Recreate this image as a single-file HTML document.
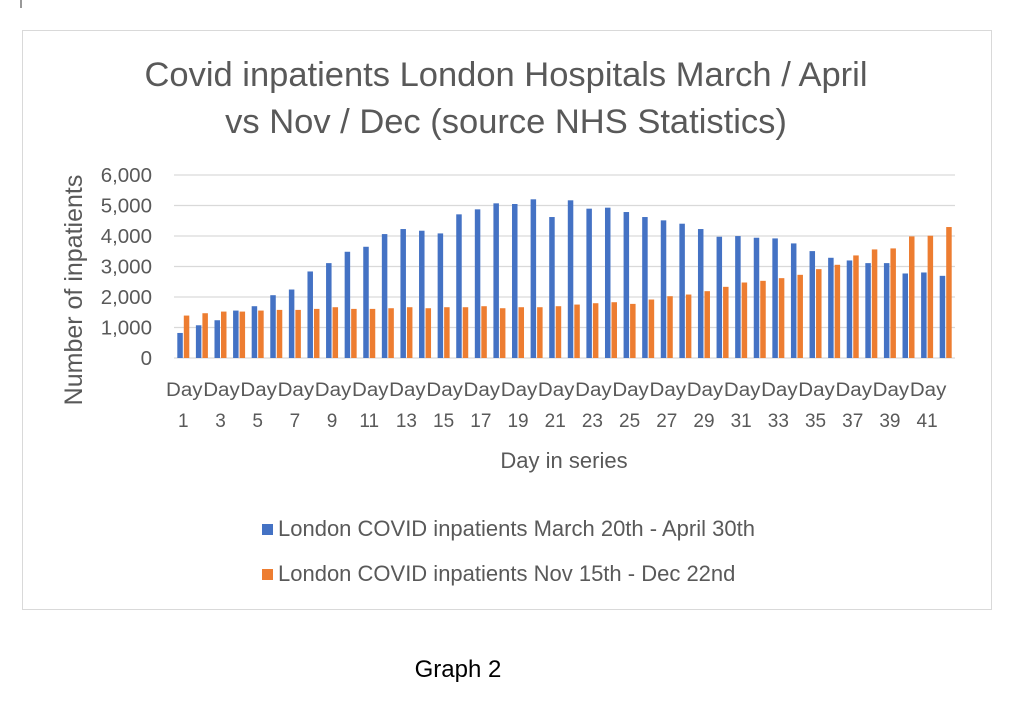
<!DOCTYPE html>
<html><head><meta charset="utf-8"><style>
body{margin:0;background:#fff;width:1024px;height:699px;overflow:hidden;font-family:"Liberation Sans",sans-serif}
svg text{font-family:"Liberation Sans",sans-serif;fill:#595959}
</style></head><body>
<svg id="c" width="1024" height="699" xmlns="http://www.w3.org/2000/svg">
<line x1="21" y1="0" x2="21" y2="8" stroke="#333" stroke-width="1"/>
<rect x="22.5" y="30.5" width="969" height="579" fill="#fff" stroke="#d9d9d9"/>
<text x="506" y="86" font-size="34.5" text-anchor="middle">Covid inpatients London Hospitals March / April</text>
<text x="506" y="133" font-size="34.5" text-anchor="middle">vs Nov / Dec (source NHS Statistics)</text>
<text transform="translate(82,290) rotate(-90)" font-size="25" text-anchor="middle">Number of inpatients</text>
<text x="564" y="468" font-size="22" text-anchor="middle">Day in series</text>
<g id="grid"></g><g id="bars"></g><g id="xl"></g>
<rect x="262" y="524" width="11" height="11" fill="#4472c4"/>
<text x="278" y="536" font-size="22">London COVID inpatients March 20th - April 30th</text>
<rect x="262" y="569" width="11" height="11" fill="#ed7d31"/>
<text x="278" y="581" font-size="22">London COVID inpatients Nov 15th - Dec 22nd</text>
<text x="458" y="677" font-size="24" text-anchor="middle" style="fill:#000">Graph 2</text>
</svg>
<script>
const yTicks=[0,1000,2000,3000,4000,5000,6000];
const yTickLabels=["0","1,000","2,000","3,000","4,000","5,000","6,000"];
const spring=[821,1073,1238,1555,1698,2059,2245,2837,3111,3483,3647,4063,4228,4173,4085,4710,4874,5071,5049,5203,4622,5170,4896,4929,4786,4622,4513,4403,4228,3976,3998,3943,3921,3757,3505,3286,3198,3111,3111,2771,2804,2694];
const winter=[1391,1468,1522,1522,1555,1577,1577,1610,1665,1610,1610,1632,1665,1632,1665,1665,1698,1632,1665,1665,1698,1752,1796,1829,1774,1917,2026,2081,2191,2333,2475,2530,2618,2727,2913,3056,3363,3560,3593,3987,4009,4294];
const NS="http://www.w3.org/2000/svg";
const L=174,R=955,Y0=358,Y1=175,YMAX=6000;
const n=spring.length,cw=(R-L)/n;
const y=v=>Y0-(v/YMAX)*(Y0-Y1);
const xc=i=>L+cw*(i+0.5);
function mk(t,a,p){const e=document.createElementNS(NS,t);for(const k in a)e.setAttribute(k,a[k]);p.appendChild(e);return e;}
const g=document.getElementById('grid');
yTicks.forEach((v,i)=>{
 const l=mk('line',{x1:L,x2:R,y1:y(v),y2:y(v),stroke:'#d9d9d9','stroke-width':1.2},g);
 
 
 const t=mk('text',{x:152,y:y(v)+7,'font-size':20.5,'text-anchor':'end'},g);
 t.textContent=yTickLabels[i];
 
 
});
const b=document.getElementById('bars');
const bw=5.5;
spring.forEach((v,i)=>{
 const r=mk('rect',{x:xc(i)-bw-0.5,y:y(v),width:bw,height:Y0-y(v),fill:'#4472c4'},b);
 
 
});
winter.forEach((v,i)=>{
 const r=mk('rect',{x:xc(i)+0.5,y:y(v),width:bw,height:Y0-y(v),fill:'#ed7d31'},b);
 
 
});
const xl=document.getElementById('xl');
for(let i=0;i<n;i+=2){
 const t=mk('text',{x:xc(i)+1,y:396,'font-size':19,'text-anchor':'middle',textLength:36.5,lengthAdjust:'spacingAndGlyphs'},xl);
 t.textContent='Day';
 
 
 const u=mk('text',{x:xc(i),y:427,'font-size':19,'text-anchor':'middle'},xl);
 u.textContent=String(i+1);
 
 
}
</script>
</body></html>
